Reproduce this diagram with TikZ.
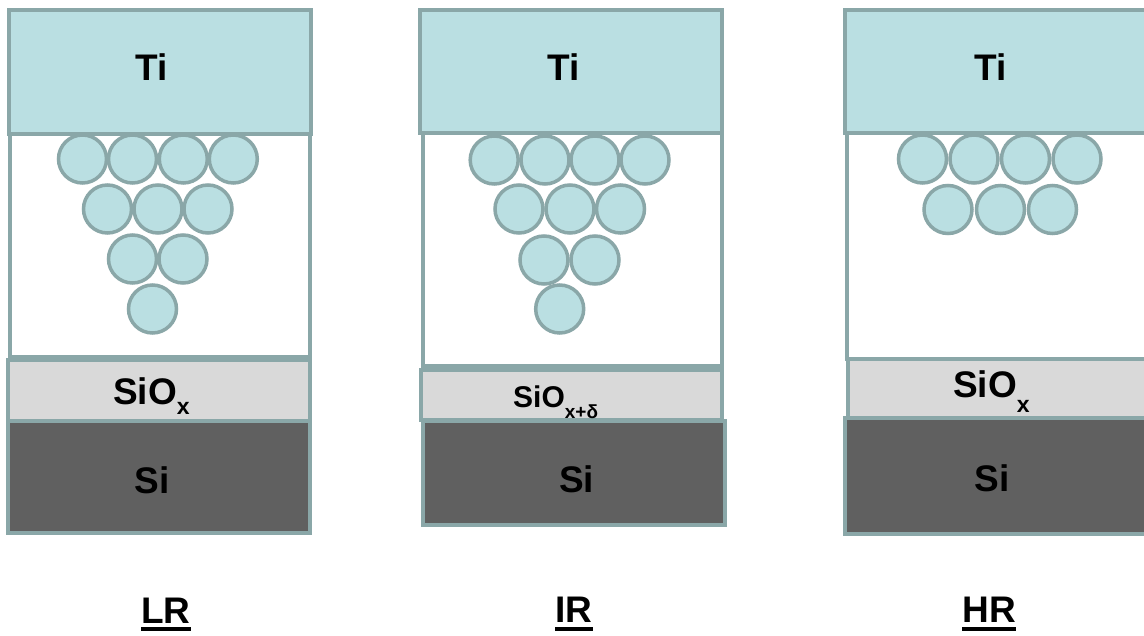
\documentclass[tikz,border=0pt]{standalone}
\usepackage{fontspec}
\setmainfont{Liberation Sans}
\definecolor{tifill}{HTML}{BADFE2}
\definecolor{edgecol}{HTML}{8AA7A8}
\definecolor{oxfill}{HTML}{D9D9D9}
\definecolor{sifill}{HTML}{606060}
\begin{document}
\begin{tikzpicture}[x=1pt,y=-1pt,
  layer/.style={draw=edgecol,line width=4pt},
  tilayer/.style={layer,fill=tifill},
  gaplayer/.style={layer,fill=white},
  oxlayer/.style={layer,fill=oxfill},
  silayer/.style={layer,fill=sifill},
  ball/.style={circle,draw=edgecol,fill=tifill,line width=3.5pt,minimum size=48pt,inner sep=0pt},
  big/.style={font=\fontsize{37}{40}\selectfont\bfseries,inner sep=0pt,text=black},
  mid/.style={font=\fontsize{30}{32}\selectfont\bfseries,inner sep=0pt,text=black},
  uline/.style={line width=4pt,black}]
\useasboundingbox (0,0) rectangle (1144,636);
\clip (0,0) rectangle (1144,636);
\fill[white] (0,0) rectangle (1144,636);

% ---------- LR ----------
\draw[gaplayer] (10.3,134) rectangle (310.3,357);
\foreach \i/\x/\y in {1/82.5/159,2/132.5/159,3/183.3/159,4/233.3/159,
                      5/107.5/209,6/158/209,7/208/209,
                      8/132.5/259,9/183/259,
                      10/152.5/309}
  \node[ball] (lr\i) at (\x,\y) {};
\draw[tilayer] (8.7,10.3) rectangle (311,134);
\draw[oxlayer] (8,360.5) rectangle (310,421);
\draw[silayer] (8,421) rectangle (310,533);
\node[big,anchor=base] (tiL) at (152,81) {Ti};
\node[big,anchor=base west] (oxL) at (113,405) {SiO\raisebox{-10pt}{\fontsize{23}{23}\selectfont x}};
\node[big,anchor=base] (siL) at (152,493) {Si};
\node[big,anchor=base] (lbL) at (166,623) {LR};
\draw[uline] ([yshift=-5.7pt]lbL.base west) -- ([yshift=-5.7pt]lbL.base east);

% ---------- IR ----------
\draw[gaplayer] (422.7,133) rectangle (721.7,366.5);
\foreach \i/\x/\y in {1/494.2/160,2/545/160,3/595/160,4/645/160,
                      5/519/209,6/570/209,7/620.5/209,
                      8/544/260,9/595/260,
                      10/559.7/309}
  \node[ball] (ir\i) at (\x,\y) {};
\draw[tilayer] (420.3,10.3) rectangle (722,133);
\draw[oxlayer] (421,370) rectangle (722,420);
\draw[silayer] (423.3,421) rectangle (725,525);
\node[big,anchor=base] (tiI) at (564,81) {Ti};
\node[mid,anchor=base west] (oxI) at (513,408) {SiO\raisebox{-11pt}{\fontsize{19}{19}\selectfont x+δ}};
\node[big,anchor=base] (siI) at (576.5,492) {Si};
\node[big,anchor=base] (lbI) at (574,622) {IR};
\draw[uline] ([yshift=-6.7pt]lbI.base west) -- ([yshift=-6.7pt]lbI.base east);

% ---------- HR ----------
\draw[gaplayer] (847,133) rectangle (1160,358.6);
\foreach \i/\x/\y in {1/922.5/159,2/974/159,3/1025.5/159,4/1077/159,
                      5/948/209.5,6/1000.5/209.5,7/1052.5/209.5}
  \node[ball] (hr\i) at (\x,\y) {};
\draw[tilayer] (845,10.3) rectangle (1160,133);
\draw[oxlayer] (848,358.6) rectangle (1160,418.4);
\draw[silayer] (845,418.4) rectangle (1160,534);
\node[big,anchor=base] (tiH) at (991,81) {Ti};
\node[big,anchor=base west] (oxH) at (953,398) {SiO\raisebox{-15pt}{\fontsize{23}{23}\selectfont x}};
\node[big,anchor=base] (siH) at (992,491) {Si};
\node[big,anchor=base] (lbH) at (989,622) {HR};
\draw[uline] ([yshift=-6.7pt]lbH.base west) -- ([yshift=-6.7pt]lbH.base east);
\end{tikzpicture}
\end{document}
